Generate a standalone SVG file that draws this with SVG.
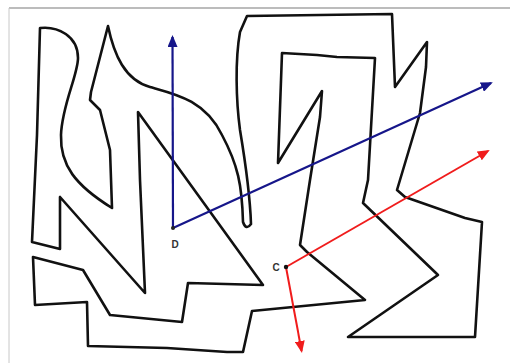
<svg xmlns="http://www.w3.org/2000/svg" width="510" height="363" viewBox="0 0 510 363">
<style>
.maze{fill:none;stroke:#111;stroke-width:2.6;stroke-linejoin:round;stroke-linecap:round}
.blue{stroke:#16168a;stroke-width:2.2;fill:none}
.red{stroke:#f01c1c;stroke-width:2;fill:none}
.lbl{font-family:"Liberation Sans",Arial,sans-serif;font-size:10px;font-weight:bold;fill:#333;text-anchor:middle}
</style>
<defs>
<marker id="ab" markerUnits="userSpaceOnUse" markerWidth="12" markerHeight="10" refX="10" refY="5" orient="auto">
<path d="M0,0 L12,5 L0,10 Z" fill="#16168a"/>
</marker>
<marker id="ar" markerUnits="userSpaceOnUse" markerWidth="12" markerHeight="10" refX="10" refY="5" orient="auto">
<path d="M0,0 L12,5 L0,10 Z" fill="#f01c1c"/>
</marker>
</defs>
<rect width="510" height="363" fill="#fff"/>
<line x1="9" y1="8" x2="510" y2="8" stroke="#7a7a7a" stroke-width="1.2"/>
<line x1="9" y1="8" x2="9" y2="363" stroke="#c8c8c8" stroke-width="1"/>
<g id="maze">
<path class="maze" d="M40,28 C58,26 78,36 78,58 C78,75 62,105 61,135 C60,165 75,185 112,208 L110,150 L100,110 L90,100 L91,92 L108,26 C114,55 125,80 150,87 C175,94 205,100 222,135 C238,165 242,185 243,222 Q246,231 251,224 C250,195 245,160 240,130 C236,100 235,60 240,32 L247,16 L392,14 L395,87 L427,42 L426,67 L420,113 L397,190 L405,197 L465,218 L482,222 L475,337 L348,337 L438,275 L363,203 L368,180 L375,58 L337,57 L317,55 L282,53 L278,163 L322,91 L320,117 L310,180 L300,245 L307,252 L365,300 L252,311 L243,352 L227,352 L167,348 L88,346 L87,302 L35,305 L33,257 L83,270 L110,315 L182,322 L188,283 L263,285 L138,112 L140,180 L145,293 L60,197 L60,249 L32,242 L37,135 Z"/>
</g>
<g id="connectors">
<line class="blue" x1="173" y1="228" x2="172.5" y2="37" marker-end="url(#ab)"/>
<line class="blue" x1="173" y1="228" x2="491" y2="83" marker-end="url(#ab)"/>
<line class="red" x1="286" y1="267" x2="488" y2="151" marker-end="url(#ar)"/>
<line class="red" x1="286" y1="267" x2="301.6" y2="351" marker-end="url(#ar)"/>
</g>
<g id="node-D">
<circle cx="173" cy="228" r="2" fill="#222"/>
<text class="lbl" x="175" y="248">D</text>
</g>
<g id="node-C">
<circle cx="286" cy="267" r="2.2" fill="#111"/>
<text class="lbl" x="276" y="271">C</text>
</g>
</svg>
